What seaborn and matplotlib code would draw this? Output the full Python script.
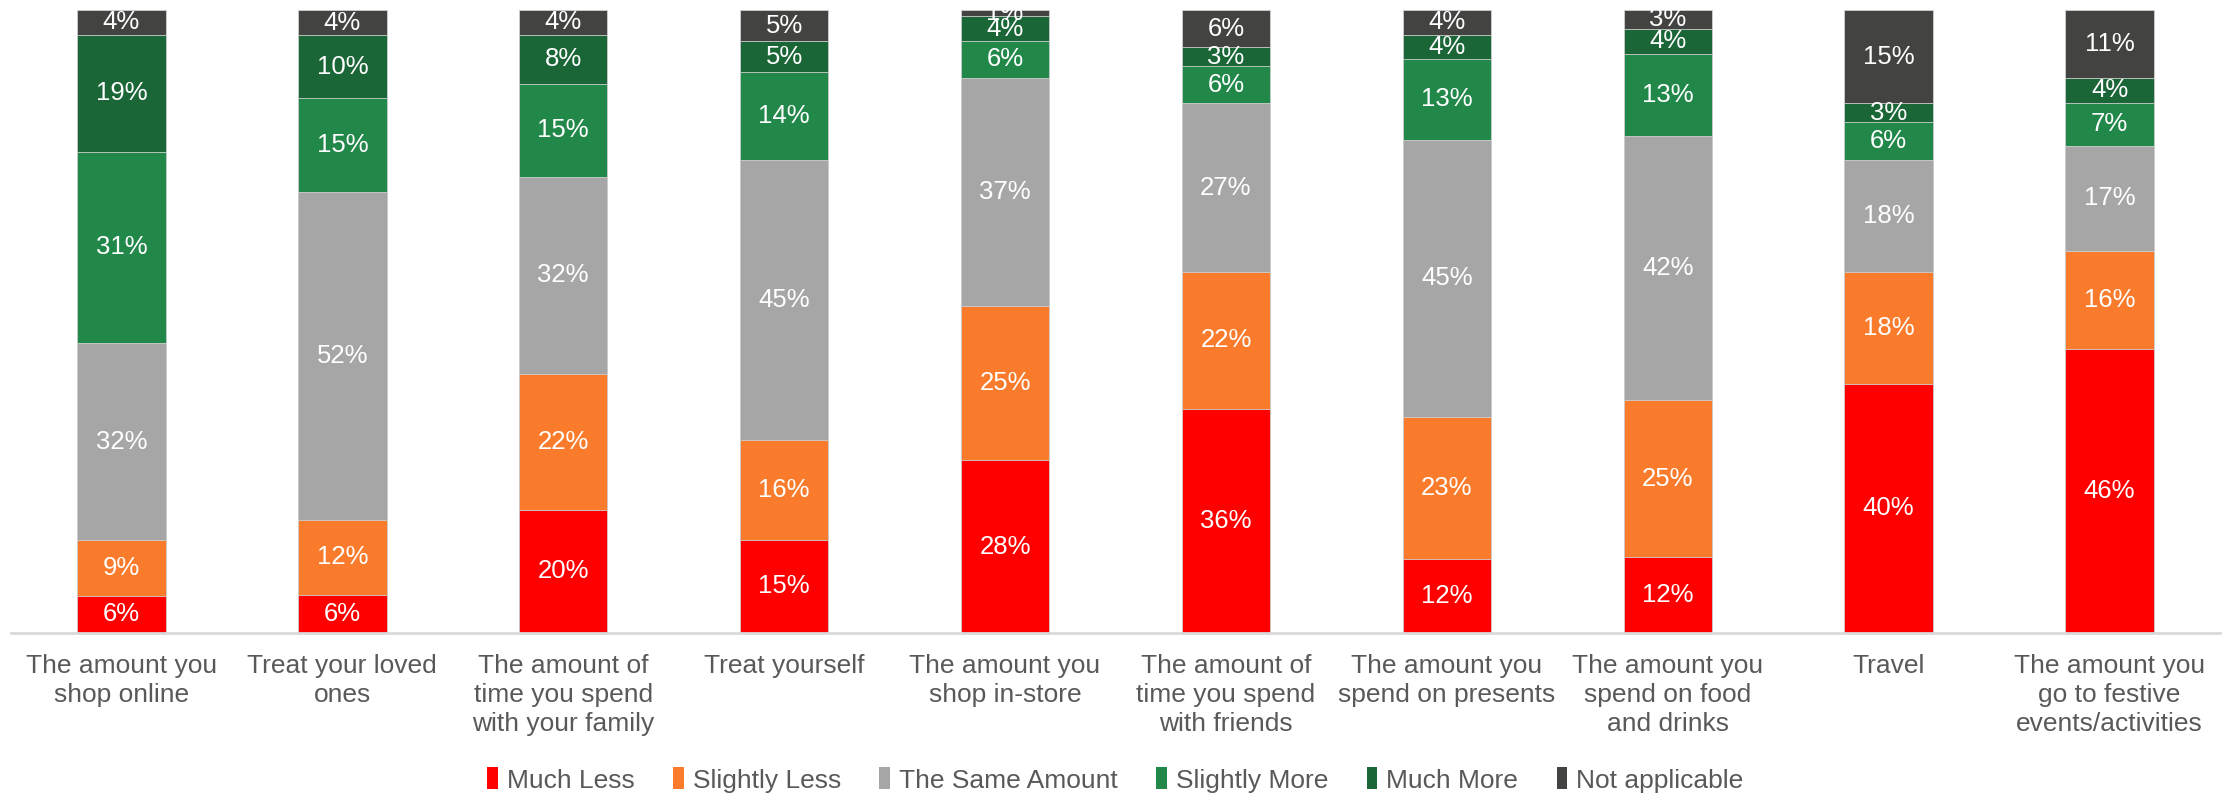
import numpy as np
import pandas as pd
import matplotlib
matplotlib.use("Agg")
import matplotlib.pyplot as plt
import seaborn as sns
from matplotlib.patches import Patch

categories = [
    "The amount you\nshop online",
    "Treat your loved\nones",
    "The amount of\ntime you spend\nwith your family",
    "Treat yourself",
    "The amount you\nshop in-store",
    "The amount of\ntime you spend\nwith friends",
    "The amount you\nspend on presents",
    "The amount you\nspend on food\nand drinks",
    "Travel",
    "The amount you\ngo to festive\nevents/activities",
]

series_names = ["Much Less", "Slightly Less", "The Same Amount",
                "Slightly More", "Much More", "Not applicable"]

much_less = [6, 6, 20, 15, 28, 36, 12, 12, 40, 46]
slightly_less = [9, 12, 22, 16, 25, 22, 23, 25, 18, 16]
same_amount = [32, 52, 32, 45, 37, 27, 45, 42, 18, 17]
slightly_more = [31, 15, 15, 14, 6, 6, 13, 13, 6, 7]
much_more = [19, 10, 8, 5, 4, 3, 4, 4, 3, 4]
not_applicable = [4, 4, 4, 5, 1, 6, 4, 3, 15, 11]

colors = ["#FF0000", "#FA7B2B", "#A6A6A6", "#21884A", "#1B6637", "#434341"]

values = np.array([much_less, slightly_less, same_amount,
                   slightly_more, much_more, not_applicable], dtype=float)
# 100% stacked: each column scaled to its own total
shares = values / values.sum(axis=0) * 100
cum = np.cumsum(shares, axis=0)

sns.set_theme(style="white")
plt.rcParams["font.family"] = ["Liberation Sans", "DejaVu Sans"]

fig = plt.figure(figsize=(22.31, 7.97), dpi=100)
ax = fig.add_axes([11 / 2231, 164 / 797, 2209 / 2231, 623 / 797])

# Draw cumulative totals from the top series down so each layer shows its segment
for i in range(len(series_names) - 1, -1, -1):
    df = pd.DataFrame({"category": categories, "top": cum[i]})
    sns.barplot(data=df, x="category", y="top", color=colors[i],
                width=0.4, saturation=1, ax=ax,
                edgecolor="#d0d0d0", linewidth=0.6)

# Segment labels
for i in range(len(series_names)):
    for j in range(len(categories)):
        mid = cum[i, j] - shares[i, j] / 2
        ax.text(j, mid, f"{int(values[i, j])}%", ha="center", va="center",
                color="white", fontsize=18.5)

ax.set_xlim(-0.5, len(categories) - 0.5)
ax.set_ylim(0, 100)
ax.set_xlabel("")
ax.set_ylabel("")
ax.set_yticks([])
for s in ["top", "right", "left"]:
    ax.spines[s].set_visible(False)
ax.spines["bottom"].set_color("#D9D9D9")
ax.spines["bottom"].set_linewidth(2)
ax.tick_params(axis="x", length=0, pad=15, labelsize=19, labelcolor="#595959")
for lbl in ax.get_xticklabels():
    lbl.set_linespacing(1.27)
    lbl.set_va("top")

handles = [Patch(facecolor=c, edgecolor="none") for c in colors]
fig.legend(handles, series_names, loc="center", bbox_to_anchor=(0.5, 17 / 797),
           ncol=6, frameon=False, fontsize=19, labelcolor="#595959",
           handlelength=0.4, handleheight=0.9, handletextpad=0.35,
           columnspacing=1.45)

fig.savefig("out.png", dpi=100, facecolor="white")
